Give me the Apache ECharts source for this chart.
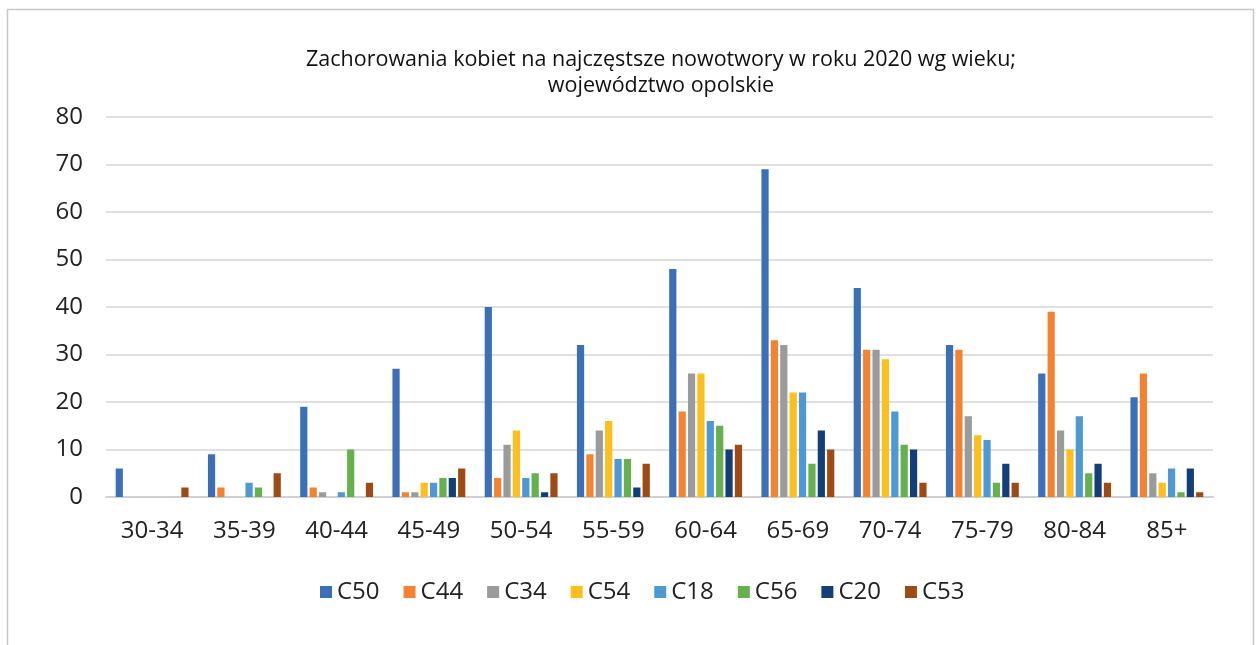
<!DOCTYPE html>
<html>
<head>
<meta charset="utf-8">
<script src="https://cdn.jsdelivr.net/npm/echarts@6/dist/echarts.min.js"></script>
<style>
  html, body { margin: 0; padding: 0; background: #fff; }
  #chart { width: 1260px; height: 645px; }
</style>
</head>
<body>
<div id="chart"></div>
<script>
// age groups on x axis
var ageGroups = ['30-34', '35-39', '40-44', '45-49', '50-54', '55-59',
                 '60-64', '65-69', '70-74', '75-79', '80-84', '85+'];

var seriesNames = ['C50', 'C44', 'C34', 'C54', 'C18', 'C56', 'C20', 'C53'];

// values
var c50 = [6, 9, 19, 27, 40, 32, 48, 69, 44, 32, 26, 21];
var c44 = [0, 2, 2, 1, 4, 9, 18, 33, 31, 31, 39, 26];
var c34 = [0, 0, 1, 1, 11, 14, 26, 32, 31, 17, 14, 5];
var c54 = [0, 0, 0, 3, 14, 16, 26, 22, 29, 13, 10, 3];
var c18 = [0, 3, 1, 3, 4, 8, 16, 22, 18, 12, 17, 6];
var c56 = [0, 2, 10, 4, 5, 8, 15, 7, 11, 3, 5, 1];
var c20 = [0, 0, 0, 4, 1, 2, 10, 14, 10, 7, 7, 6];
var c53 = [2, 5, 3, 6, 5, 7, 11, 10, 3, 3, 3, 1];

var yTicks = [0, 10, 20, 30, 40, 50, 60, 70, 80];

var colors = ['#3b70b8', '#f38331', '#999b9c', '#fcbf1b',
              '#4e98d3', '#67b04e', '#133f78', '#9d4a14'];

var allData = [c50, c44, c34, c54, c18, c56, c20, c53];

var font = '"Open Sans", "Noto Sans", sans-serif';

var chart = echarts.init(document.getElementById('chart'));

var series = [];
for (var i = 0; i < seriesNames.length; i++) {
  series.push({
    name: seriesNames[i],
    type: 'bar',
    data: allData[i],
    barGap: '30%',
    barCategoryGap: '21%',
    itemStyle: { color: colors[i] }
  });
}

chart.setOption({
  animation: false,
  color: colors,
  textStyle: { fontFamily: font },
  title: {
    text: 'Zachorowania kobiet na najczęstsze nowotwory w roku 2020 wg wieku;\nwojewództwo opolskie',
    left: 656,
    top: 42,
    textAlign: 'center',
    textStyle: { fontFamily: font, fontSize: 21.5, fontWeight: 'normal', color: '#111', lineHeight: 26 }
  },
  legend: {
    bottom: 36,
    left: 315,
    itemWidth: 12,
    itemHeight: 12,
    itemGap: 24,
    icon: 'rect',
    textStyle: { fontFamily: font, fontSize: 24, color: '#222' },
    data: seriesNames
  },
  grid: { left: 106, right: 47, top: 117, bottom: 148 },
  xAxis: {
    type: 'category',
    data: ageGroups,
    axisLine: { lineStyle: { color: '#d0d0d0', width: 2 } },
    axisTick: { show: false },
    axisLabel: { fontFamily: font, fontSize: 24, color: '#222', margin: 22 }
  },
  yAxis: {
    type: 'value',
    min: yTicks[0],
    max: yTicks[yTicks.length - 1],
    interval: 10,
    axisLine: { show: false },
    axisTick: { show: false },
    splitLine: { lineStyle: { color: '#d6d6d6', width: 1.5 } },
    axisLabel: { fontFamily: font, fontSize: 24, color: '#222', margin: 23 }
  },
  graphic: [{
    type: 'rect',
    shape: { x: 7.5, y: 9.5, width: 1246, height: 700 },
    style: { fill: 'none', stroke: '#c8c8c8', lineWidth: 1.5 },
    silent: true
  }],
  series: series
});
</script>
</body>
</html>
